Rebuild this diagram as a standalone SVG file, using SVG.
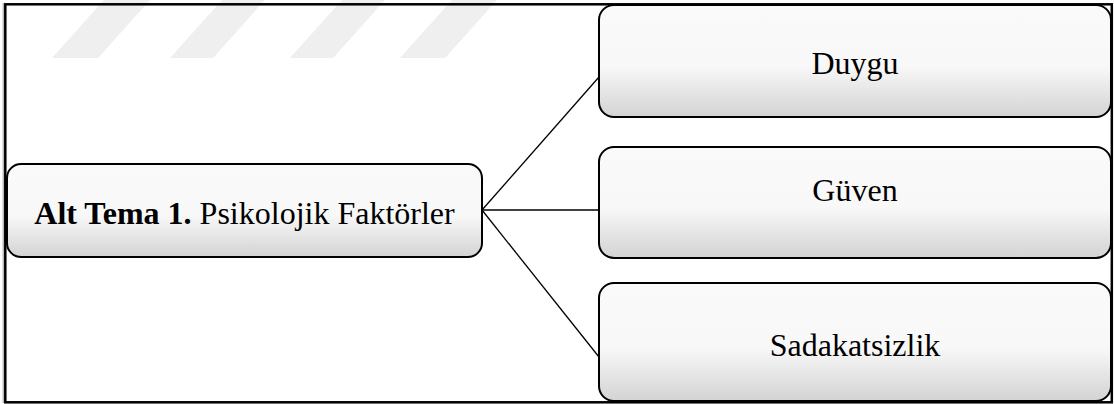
<svg xmlns="http://www.w3.org/2000/svg" width="1114" height="404" viewBox="0 0 1114 404">
<defs>
<linearGradient id="g" x1="0" y1="0" x2="0" y2="1">
<stop offset="0" stop-color="#fafafa"/>
<stop offset="0.55" stop-color="#f8f8f8"/>
<stop offset="1" stop-color="#d3d3d3"/>
</linearGradient>
<style>
.box{fill:url(#g);stroke:#000;stroke-width:2}
.t{font-family:"Liberation Serif","Times New Roman",serif;font-size:32px;fill:#000;text-anchor:middle}
.wm{fill:#efefef}
.c{stroke:#000;stroke-width:1.3;fill:none}
</style>
</defs>
<rect x="0" y="0" width="1114" height="404" fill="#fff"/>
<g id="watermark">
<polygon class="wm" points="52,58 98,58 150,0 104,0"/>
<polygon class="wm" points="170,58 213,58 265,0 222,0"/>
<polygon class="wm" points="290,58 333,58 385,0 342,0"/>
<polygon class="wm" points="400,58 445,58 497,0 452,0"/>
</g>
<line x1="3.2" y1="3" x2="3.2" y2="403" stroke="#999" stroke-width="1"/>
<rect id="frame" x="5.3" y="4.3" width="1106.5" height="398" fill="none" stroke="#000" stroke-width="2.5"/>
<g id="connectors">
<line class="c" x1="482" y1="210" x2="599" y2="77"/>
<line class="c" x1="482" y1="210" x2="599" y2="210"/>
<line class="c" x1="482" y1="210" x2="599" y2="357"/>
</g>
<g id="node-main">
<rect class="box" x="7" y="164" width="475" height="93" rx="14"/>
<text class="t" x="244.5" y="224"><tspan font-weight="bold">Alt Tema 1.</tspan> Psikolojik Faktörler</text>
</g>
<g id="node-duygu">
<rect class="box" x="599" y="5" width="512" height="112" rx="15"/>
<text class="t" x="855" y="74">Duygu</text>
</g>
<g id="node-guven">
<rect class="box" x="599" y="147" width="512" height="111" rx="15"/>
<text class="t" x="855" y="201">Güven</text>
</g>
<g id="node-sadakatsizlik">
<rect class="box" x="599" y="283" width="512" height="118" rx="15"/>
<text class="t" x="855" y="356">Sadakatsizlik</text>
</g>
</svg>
